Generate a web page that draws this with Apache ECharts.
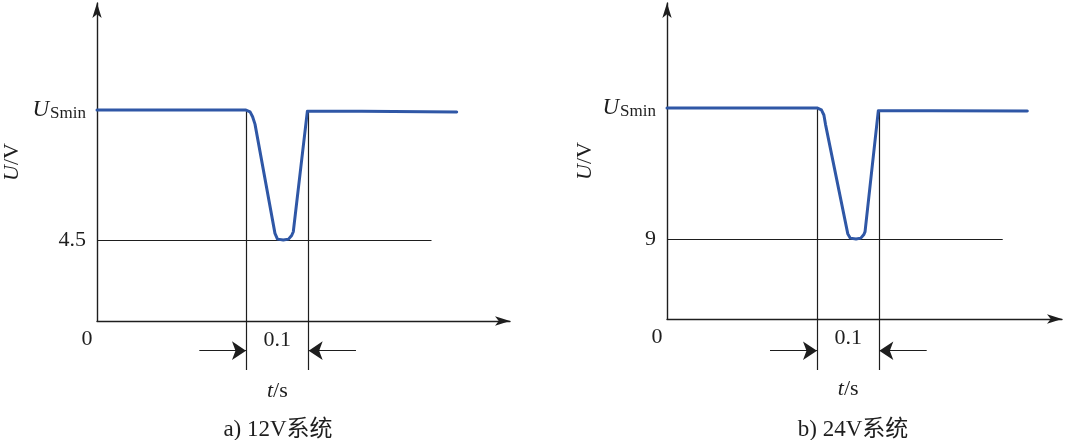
<!DOCTYPE html>
<html>
<head>
<meta charset="utf-8">
<script src="https://cdn.jsdelivr.net/npm/echarts@6/dist/echarts.min.js"></script>
<style>html,body{margin:0;padding:0;background:#fff}#c{width:1080px;height:440px}</style>
</head>
<body>
<div id="c"></div>
<script>
// ---- Panel a) 12V system ----
const tA = [0, 0.2365, 0.2430, 0.2470, 0.2508, 0.2825, 0.2865, 0.2957, 0.3040, 0.3090, 0.3116, 0.3339, 0.4201, 0.5710];
const uA = [11.72, 11.72, 11.62, 11.35, 10.94, 4.87, 4.55, 4.5, 4.55, 4.75, 4.96, 11.65, 11.65, 11.61];
const dropA = [0.2365, 0.336];          // start / end of the 0.1 s dip
const levelA = 4.5;                     // minimum voltage
const uSminA = 11.72;
const refEndA = 0.531;                  // end of 4.5 V reference line
const arrowTailA = [0.1624, 0.4111];    // dimension arrow tails
const dimLevelA = -1.65;                // dimension arrow height
const dimBottomA = -2.72;               // bottom of extension lines
const xMaxA = 0.6556, yMaxA = 17.67;
const yTicksA = [4.5, 11.72];
const yTickTextA = ['4.5', 'U_Smin'];
const captionA = 'a) 12V系统';

// ---- Panel b) 24V system ----
const tB = [0, 0.2419, 0.2490, 0.2530, 0.2556, 0.2915, 0.2955, 0.3048, 0.3125, 0.3175, 0.3194, 0.3408, 0.4280, 0.5811];
const uB = [23.74, 23.74, 23.52, 22.95, 21.9, 9.6, 9.1, 9.0, 9.1, 9.5, 9.83, 23.44, 23.44, 23.4];
const dropB = [0.2419, 0.3424];
const levelB = 9;
const uSminB = 23.74;
const refEndB = 0.5414;
const arrowTailB = [0.1661, 0.4188];
const dimLevelB = -3.57;
const dimBottomB = -5.74;
const xMaxB = 0.637, yMaxB = 35.55;
const yTicksB = [9, 23.74];
const yTickTextB = ['9', 'U_Smin'];
const captionB = 'b) 24V系统';

const durationText = '0.1';
const xNameItalic = 't', xNameRest = '/s';
const yNameItalic = 'U', yNameRest = '/V';

const FONT = "'Liberation Serif', 'Times New Roman', 'Noto Sans CJK SC', serif";
const BLUE = '#2f57a6';
const INK = '#1e1e1e';

function richTick(s) {
  if (s.indexOf('_') >= 0) {
    const p = s.split('_');
    return '{u|' + p[0] + '}{s|' + p[1] + '}';
  }
  return '{n|' + s + '}';
}

function xAxisFor(i, xMax, mid) {
  return {
    type: 'value', gridIndex: i, min: 0, max: xMax,
    splitLine: {show: false},
    axisTick: {show: false},
    axisLine: {onZero: false, lineStyle: {color: INK, width: 1.4}, symbol: ['none', 'arrow'], symbolSize: [7, 15]},
    axisLabel: {
      customValues: [0, mid],
      margin: 1,
      formatter: v => v === 0 ? '{z|0}' : '{n|' + durationText + '}\n{ti|' + xNameItalic + '}{n2|' + xNameRest + '}',
      rich: {
        z: {fontFamily: FONT, fontSize: 22, color: INK, lineHeight: 34, padding: [0, 20, 0, 0]},
        n: {fontFamily: FONT, fontSize: 22, color: INK, lineHeight: 36},
        ti: {fontFamily: FONT, fontSize: 22, color: INK, fontStyle: 'italic', lineHeight: 66},
        n2: {fontFamily: FONT, fontSize: 22, color: INK, lineHeight: 66}
      }
    }
  };
}

function yAxisFor(i, yMax, ticks, texts, nameGap) {
  return {
    type: 'value', gridIndex: i, min: 0, max: yMax,
    splitLine: {show: false},
    axisTick: {show: false},
    axisLine: {lineStyle: {color: INK, width: 1.4}, symbol: ['none', 'arrow'], symbolSize: [7, 15]},
    name: '{i|' + yNameItalic + '}{r|' + yNameRest + '}',
    nameLocation: 'middle', nameRotate: 90, nameGap: nameGap,
    nameTextStyle: {
      rich: {
        i: {fontFamily: FONT, fontSize: 22, color: INK, fontStyle: 'italic'},
        r: {fontFamily: FONT, fontSize: 22, color: INK}
      }
    },
    axisLabel: {
      customValues: ticks,
      margin: 11,
      formatter: v => richTick(texts[ticks.indexOf(v)]),
      rich: {
        n: {fontFamily: FONT, fontSize: 22, color: INK},
        u: {fontFamily: FONT, fontSize: 23, color: INK, fontStyle: 'italic', verticalAlign: 'top', lineHeight: 24},
        s: {fontFamily: FONT, fontSize: 17, color: INK, verticalAlign: 'bottom', lineHeight: 18, padding: [9, 0, 0, 1]}
      }
    }
  };
}

function seriesFor(i, t, u, drop, level, uSmin, refEnd, tails, dimLevel, dimBottom) {
  return [
    {
      type: 'line', xAxisIndex: i, yAxisIndex: i, z: 5,
      data: t.map((x, k) => [x, u[k]]),
      symbol: 'none', showSymbol: false, smooth: false,
      lineStyle: {color: BLUE, width: 3, join: 'round', cap: 'round'}
    },
    {
      type: 'lines', coordinateSystem: 'cartesian2d', xAxisIndex: i, yAxisIndex: i, clip: false, z: 3,
      symbol: 'none',
      lineStyle: {color: INK, width: 1.2, opacity: 1},
      data: [
        {coords: [[drop[0], uSmin], [drop[0], dimBottom]]},
        {coords: [[drop[1], u[11]], [drop[1], dimBottom]]},
        {coords: [[0, level], [refEnd, level]]}
      ]
    },
    {
      type: 'lines', coordinateSystem: 'cartesian2d', xAxisIndex: i, yAxisIndex: i, clip: false, z: 3,
      symbol: ['none', 'arrow'], symbolSize: [6, 14],
      lineStyle: {color: INK, width: 1.2, opacity: 1},
      data: [
        {coords: [[tails[0], dimLevel], [drop[0], dimLevel]]},
        {coords: [[tails[1], dimLevel], [drop[1], dimLevel]]}
      ]
    }
  ];
}

const chart = echarts.init(document.getElementById('c'), null, {renderer: 'canvas'});
chart.setOption({
  animation: false,
  backgroundColor: '#fff',
  title: [
    {text: captionA, left: 273, top: 413, textAlign: 'center', textStyle: {fontFamily: FONT, fontSize: 23, fontWeight: 'normal', color: INK}},
    {text: captionB, left: 848, top: 413, textAlign: 'center', textStyle: {fontFamily: FONT, fontSize: 23, fontWeight: 'normal', color: INK}}
  ],
  grid: [
    {left: 97, top: 3, width: 413, height: 318},
    {left: 667, top: 3, width: 395, height: 316}
  ],
  xAxis: [
    xAxisFor(0, xMaxA, (dropA[0] + dropA[1]) / 2),
    xAxisFor(1, xMaxB, (dropB[0] + dropB[1]) / 2)
  ],
  yAxis: [
    yAxisFor(0, yMaxA, yTicksA, yTickTextA, 74),
    yAxisFor(1, yMaxB, yTicksB, yTickTextB, 71)
  ],
  series: [].concat(
    seriesFor(0, tA, uA, dropA, levelA, uSminA, refEndA, arrowTailA, dimLevelA, dimBottomA),
    seriesFor(1, tB, uB, dropB, levelB, uSminB, refEndB, arrowTailB, dimLevelB, dimBottomB)
  )
});
</script>
</body>
</html>
